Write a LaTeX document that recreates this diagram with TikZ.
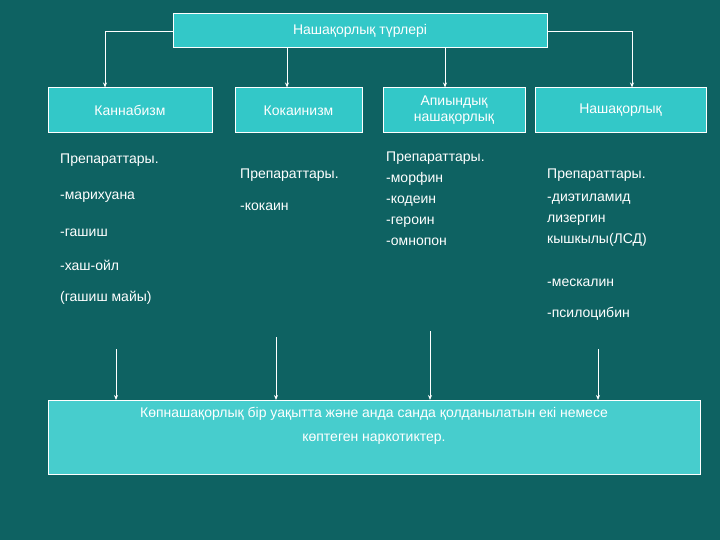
\documentclass[tikz,border=0pt]{standalone}
\usepackage{fontspec}
\setmainfont{Liberation Sans}
\usetikzlibrary{arrows.meta}
\definecolor{bgc}{HTML}{0E6262}
\definecolor{boxc}{HTML}{33C8C8}
\begin{document}
\begin{tikzpicture}[x=1pt,y=-1pt,
  bx/.style={draw=white,fill=boxc,line width=1pt,text=white,font=\fontsize{14}{16}\selectfont,align=center,inner sep=0pt},
  tx/.style={anchor=west,text=white,font=\fontsize{14}{16}\selectfont,inner sep=0pt},
  ar/.style={draw=white,line width=0.9pt,-{Stealth[length=5pt,width=4pt]}}]
\fill[bgc] (0,0) rectangle (720,540);
\useasboundingbox (0,0) rectangle (720,540);
\node[bx,minimum width=374,minimum height=34] (top) at (360,31) {Нашақорлық түрлері};
\node[bx,minimum width=164,minimum height=45] (b1) at (130,110.5) {\raisebox{-6pt}{Каннабизм}};
\node[bx,minimum width=127,minimum height=45] (b2) at (298.5,110.5) {Кокаинизм};
\node[bx,minimum width=142,minimum height=45] (b3) at (454,110.5) {Апиындық\\нашақорлық};
\node[bx,minimum width=171,minimum height=45] (b4) at (620.5,110.5) {Нашақорлық};
\coordinate (l1) at (105,31); \coordinate (r1) at (632,31);
\coordinate (m2) at (287,48); \coordinate (m3) at (445,48);
\draw[ar] (top.west) -- (l1) -- (l1 |- b1.north);
\draw[ar] (top.east) -- (r1) -- (r1 |- b4.north);
\draw[ar] (m2) -- (m2 |- b2.north);
\draw[ar] (m3) -- (m3 |- b3.north);
\node[tx] (c1a) at (60,160) {Препараттары.};
\node[tx] (c1b) at (60,197) {-марихуана};
\node[tx] (c1c) at (60,233) {-гашиш};
\node[tx] (c1d) at (60,265) {-хаш-ойл};
\node[tx] (c1e) at (60,298) {(гашиш майы)};
\node[tx] (c2a) at (240,175) {Препараттары.};
\node[tx] (c2b) at (240,207) {-кокаин};
\node[tx,align=left,font=\fontsize{14}{21}\selectfont,anchor=north west] (c3) at (386,152) {Препараттары.\\-морфин\\-кодеин\\-героин\\-омнопон};
\node[tx] (c4a) at (547,175) {Препараттары.};
\node[tx,align=left,font=\fontsize{14}{21}\selectfont,anchor=north west] (c4b) at (547,194) {-диэтиламид\\лизергин\\кышкылы(ЛСД)};
\node[tx] (c4c) at (547,283) {-мескалин};
\node[tx] (c4d) at (547,314) {-псилоцибин};
\node[bx,minimum width=652,minimum height=74,anchor=north west,fill=boxc!90!white] (bot) at (48,400) {};
\node[text=white,font=\fontsize{14}{24}\selectfont,align=center,anchor=north] (bt) at (374,404) {Көпнашақорлық бір уақытта және анда санда қолданылатын екі немесе\\көптеген наркотиктер.};
\coordinate (s1) at (116,349); \coordinate (s2) at (276,337);
\coordinate (s3) at (430,331); \coordinate (s4) at (598,349);
\foreach \s in {s1,s2,s3,s4} \draw[ar] (\s) -- (\s |- bot.north);
\end{tikzpicture}
\end{document}
